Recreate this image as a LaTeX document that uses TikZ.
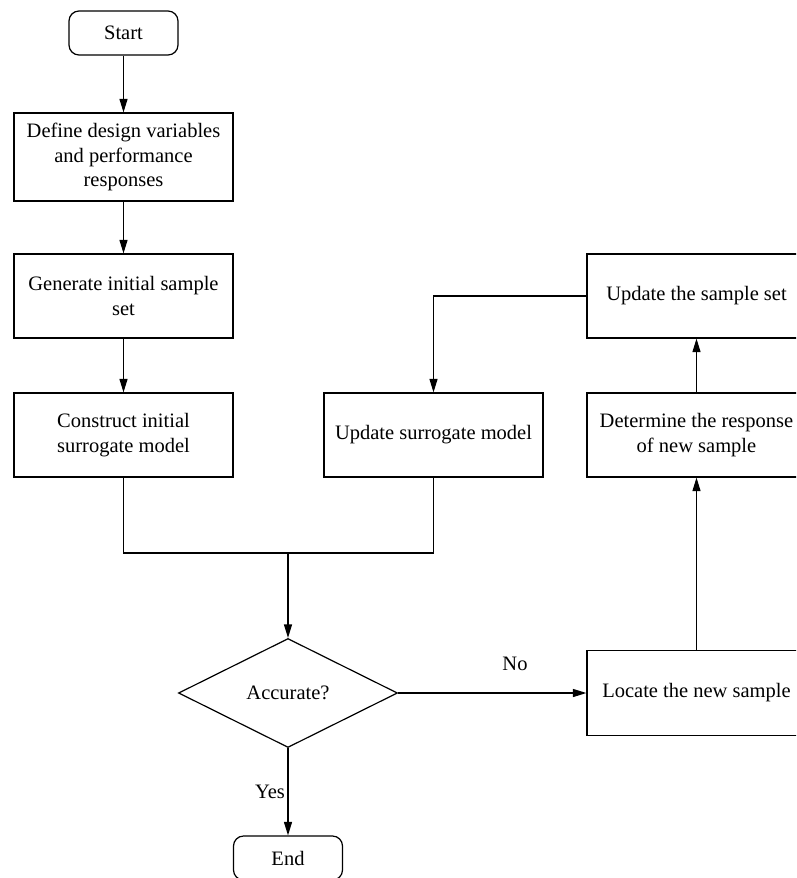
\documentclass[tikz,border=0pt]{standalone}
\usepackage{fontspec}
\setmainfont{Liberation Serif}
\usetikzlibrary{arrows.meta,shapes.geometric}
\begin{document}
\begin{tikzpicture}[x=1pt,y=-1pt,
  font=\fontsize{20.5}{24.5}\selectfont,
  line width=1.2pt,
  box/.style={draw, minimum width=219pt, minimum height=84pt, inner sep=0pt, align=center},
  term/.style={draw, rounded corners=10pt, minimum width=109pt, minimum height=44pt, inner sep=0pt},
  decision/.style={draw, diamond, aspect=2, minimum width=219pt, minimum height=109pt, inner sep=0pt},
  arr/.style={-{Triangle[length=13.5pt,width=8pt]}},
  lbl/.style={inner sep=0pt}]
\clip (0,0) rectangle (796,878);
\fill[white] (0,0) rectangle (796,878);

\node[term] (start) at (123.5,33) {Start};
\node[box, minimum height=88pt] (def) at (123.5,157) {Define design variables\\and performance\\responses};
\node[box] (gen) at (123.5,296) {Generate initial sample\\set};
\node[box] (con) at (123.5,435) {Construct initial\\surrogate model};
\node[box] (upd) at (433.5,435) {Update surrogate model};
\node[decision] (acc) at (288,693) {Accurate?};
\node[term] (end) at (288,858) {End};
\node[box] (uset) at (696.5,296) {Update the sample set};
\node[box] (det) at (696.5,435) {Determine the response\\of new sample};
\node[box, minimum height=85pt] (loc) at (696.5,693) {Locate the new sample};

\coordinate (mL) at (123.5,553);
\coordinate (mR) at (433.5,553);
\coordinate (mC) at (288,553);

\draw[arr] (start) -- (def);
\draw[arr] (def) -- (gen);
\draw[arr] (gen) -- (con);
\draw (con.south) -- (mL) -- (mR) -- (upd.south);
\draw[arr] (mC) -- (acc.north);
\draw[arr] (acc.east) -- (loc.west);
\draw[arr] (acc.south) -- (end.north);
\draw[arr] (loc.north) -- (det.south);
\draw[arr] (det.north) -- (uset.south);
\draw[arr] (uset.west) -| (upd.north);

\node[lbl] (no) at (515,664) {No};
\node[lbl] (yes) at (270,792) {Yes};
\end{tikzpicture}
\end{document}
